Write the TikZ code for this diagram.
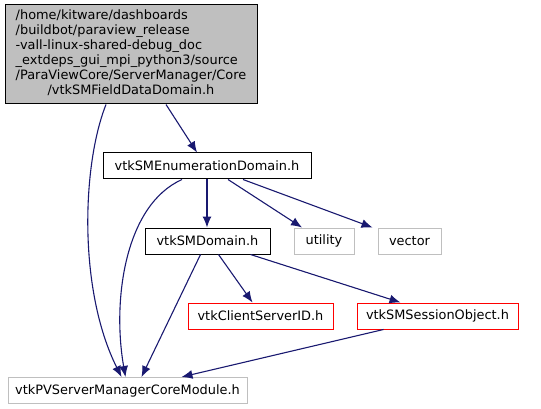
\documentclass[tikz,border=0pt]{standalone}
\usepackage{fontspec}
\setmainfont{DejaVu Sans}
\usepackage{tikz}
\usetikzlibrary{arrows.meta, positioning, calc}
\definecolor{edgeblue}{HTML}{191970}
\definecolor{mainfill}{HTML}{BFBFBF}
\definecolor{sysgray}{HTML}{BFBFBF}
\tikzset{
  filebox/.style={draw=black, line width=1pt, fill=white, inner sep=0pt,
    minimum height=26pt, font=\fontsize{12.9}{15}\selectfont},
  mainbox/.style={filebox, fill=mainfill},
  sysbox/.style={filebox, draw=sysgray},
  redbox/.style={filebox, draw=red},
  arrow/.style={-{Latex[length=11pt, width=9pt]}, edgeblue, line width=1.1pt}
}
\begin{document}
\begin{tikzpicture}[x=1pt, y=-1pt]
    \useasboundingbox (0,0) rectangle (541,409);
    \node[mainbox, minimum width=252pt, minimum height=99pt] (field) at (131,54.5)
      {\begin{tabular}{@{}l@{}}/home/kitware/dashboards\\/buildbot/paraview\_release\\-vall-linux-shared-debug\_doc\\\_extdeps\_gui\_mpi\_python3/source\\/ParaViewCore/ServerManager/Core\\\multicolumn{1}{@{}c@{}}{/vtkSMFieldDataDomain.h}\end{tabular}};
    \node[filebox, minimum width=208pt] (enum) at (207,166) {vtkSMEnumerationDomain.h};
    \node[filebox, minimum width=125pt] (domain) at (207.5,241) {vtkSMDomain.h};
    \node[sysbox, minimum width=60pt] (utility) at (324,241) {utility};
    \node[sysbox, minimum width=63pt] (vector) at (409.5,241) {vector};
    \node[redbox, minimum width=145pt] (csid) at (260.5,316) {vtkClientServerID.h};
    \node[redbox, minimum width=161pt] (session) at (437.5,316) {vtkSMSessionObject.h};
    \node[sysbox, minimum width=239pt] (core) at (127.5,390.5) {vtkPVServerManagerCoreModule.h};
    \draw[arrow] ([xshift=35pt]field.south) -- ([xshift=-10pt]enum.north);
    \draw[arrow] ([xshift=-25pt]field.south) .. controls (82,165) and (78,290) .. ([xshift=-6pt]core.north);
    \draw[arrow] ([xshift=-25pt]enum.south) .. controls (125,205) and (112,300) .. ([xshift=-2pt]core.north);
    \draw[arrow] (enum.south) -- (domain.north -| enum.south);
    \draw[arrow] ([xshift=21pt]enum.south) -- ([xshift=-22pt]utility.north);
    \draw[arrow] ([xshift=36pt]enum.south) -- ([xshift=-37pt]vector.north);
    \draw[arrow] ([xshift=-7pt]domain.south) -- ([xshift=14pt]core.north);
    \draw[arrow] ([xshift=11pt]domain.south) -- ([xshift=-8pt]csid.north);
    \draw[arrow] ([xshift=43pt]domain.south) -- ([xshift=-37pt]session.north);
    \draw[arrow] ([xshift=-54pt]session.south) -- ([xshift=54pt]core.north);
  \end{tikzpicture}
\end{document}
